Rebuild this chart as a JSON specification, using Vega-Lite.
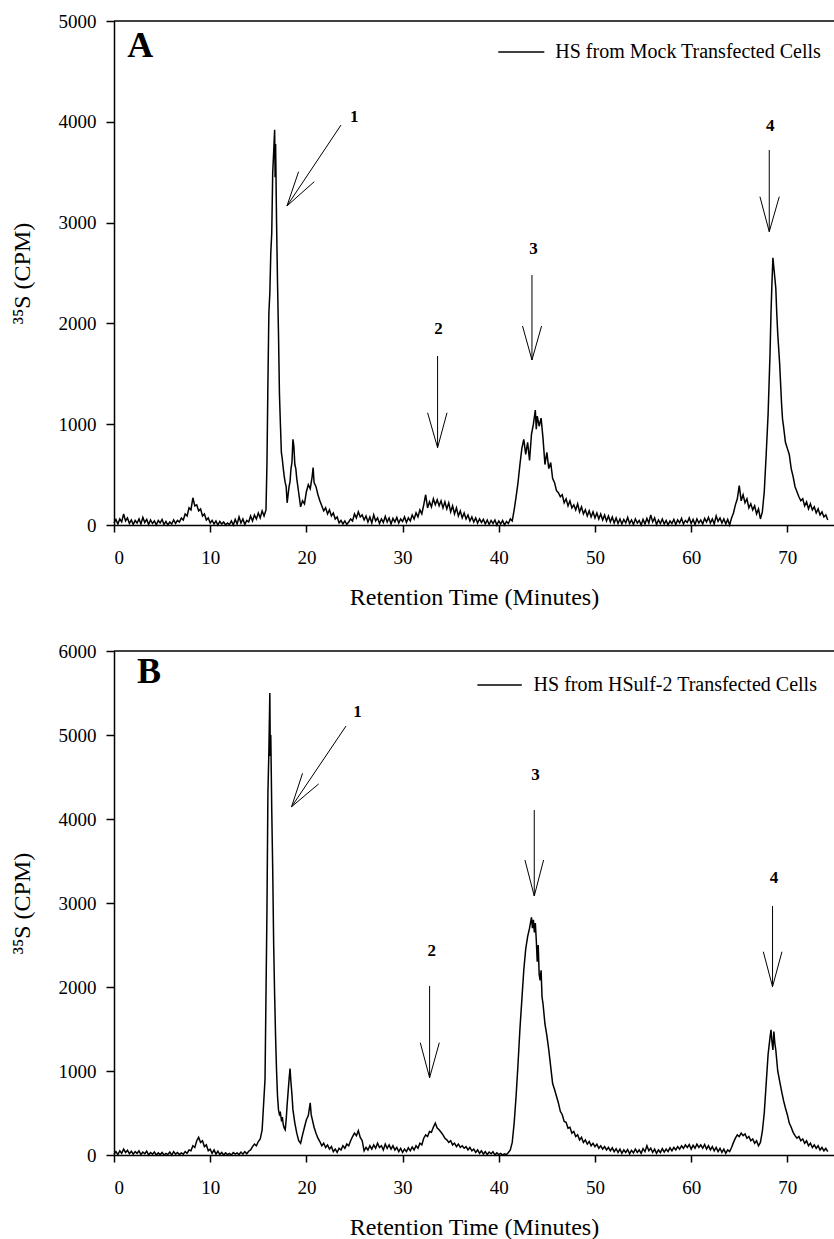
{
"$schema": "https://vega.github.io/schema/vega-lite/v6.json",
"padding": {"left": 10, "top": 12, "right": 0, "bottom": 5},
"config": {
  "font": "Liberation Serif",
  "view": {"stroke": null},
  "style": {"guide-label": {"font": "Liberation Serif", "fill": "black"}, "guide-title": {"font": "Liberation Serif", "fill": "black"}},
  "axis": {"grid": false, "domainColor": "black", "tickColor": "black", "domainWidth": 1.5, "tickWidth": 1.5, "labelColor": "black", "titleColor": "black", "labelFont": "Liberation Serif", "titleFont": "Liberation Serif", "labelFontSize": 19, "titleFontSize": 24, "titleFontWeight": "normal", "tickSize": 8},
  "legend": {"labelFont": "Liberation Serif", "labelFontSize": 20, "labelColor": "black", "labelLimit": 0, "padding": 0, "symbolType": "stroke", "symbolStrokeWidth": 1.5},
  "text": {"font": "Liberation Serif", "color": "black"}
},
"datasets": {
"mock": [
{"t":0,"v":20},{"t":0.2,"v":55},{"t":0.4,"v":10},{"t":0.6,"v":60},{"t":0.8,"v":30},{"t":1,"v":110},{"t":1.2,"v":40},{"t":1.4,"v":70},{"t":1.6,"v":15},{"t":1.8,"v":50},
{"t":2,"v":5},{"t":2.2,"v":45},{"t":2.4,"v":20},{"t":2.6,"v":60},{"t":2.8,"v":10},{"t":3,"v":75},{"t":3.2,"v":25},{"t":3.4,"v":55},{"t":3.6,"v":5},{"t":3.8,"v":50},
{"t":4,"v":15},{"t":4.2,"v":40},{"t":4.4,"v":0},{"t":4.6,"v":45},{"t":4.8,"v":20},{"t":5,"v":55},{"t":5.2,"v":5},{"t":5.4,"v":35},{"t":5.6,"v":0},{"t":5.8,"v":30},
{"t":6,"v":10},{"t":6.2,"v":50},{"t":6.4,"v":15},{"t":6.6,"v":45},{"t":6.8,"v":30},{"t":7,"v":70},{"t":7.2,"v":50},{"t":7.4,"v":110},{"t":7.6,"v":90},{"t":7.8,"v":170},
{"t":8,"v":150},{"t":8.2,"v":270},{"t":8.4,"v":190},{"t":8.6,"v":200},{"t":8.8,"v":140},{"t":9,"v":160},{"t":9.2,"v":90},{"t":9.4,"v":110},{"t":9.6,"v":50},{"t":9.8,"v":70},
{"t":10,"v":20},{"t":10.2,"v":45},{"t":10.4,"v":10},{"t":10.6,"v":40},{"t":10.8,"v":0},{"t":11,"v":35},{"t":11.2,"v":10},{"t":11.4,"v":30},{"t":11.6,"v":0},{"t":11.8,"v":20},
{"t":12,"v":5},{"t":12.2,"v":40},{"t":12.4,"v":0},{"t":12.6,"v":55},{"t":12.8,"v":10},{"t":13,"v":80},{"t":13.2,"v":20},{"t":13.4,"v":60},{"t":13.6,"v":5},{"t":13.8,"v":45},
{"t":14,"v":30},{"t":14.2,"v":90},{"t":14.4,"v":40},{"t":14.6,"v":100},{"t":14.8,"v":60},{"t":15,"v":120},{"t":15.2,"v":70},{"t":15.4,"v":140},{"t":15.6,"v":90},{"t":15.8,"v":150},
{"t":15.9,"v":600},{"t":16,"v":1400},{"t":16.1,"v":2100},{"t":16.2,"v":2300},{"t":16.3,"v":2700},{"t":16.4,"v":2900},{"t":16.5,"v":3500},{"t":16.6,"v":3700},{"t":16.7,"v":3920},{"t":16.75,"v":3450},
{"t":16.8,"v":3780},{"t":16.9,"v":3000},{"t":17,"v":2400},{"t":17.1,"v":1900},{"t":17.2,"v":1300},{"t":17.3,"v":1000},{"t":17.4,"v":720},{"t":17.5,"v":650},{"t":17.6,"v":560},{"t":17.7,"v":480},
{"t":17.8,"v":420},{"t":17.9,"v":380},{"t":18,"v":220},{"t":18.1,"v":300},{"t":18.2,"v":380},{"t":18.3,"v":430},{"t":18.4,"v":560},{"t":18.5,"v":620},{"t":18.6,"v":850},{"t":18.7,"v":780},
{"t":18.8,"v":600},{"t":18.9,"v":560},{"t":19,"v":460},{"t":19.2,"v":320},{"t":19.4,"v":180},{"t":19.6,"v":240},{"t":19.8,"v":210},{"t":20,"v":330},{"t":20.2,"v":400},{"t":20.4,"v":360},
{"t":20.6,"v":480},{"t":20.7,"v":570},{"t":20.8,"v":420},{"t":21,"v":380},{"t":21.2,"v":300},{"t":21.4,"v":240},{"t":21.6,"v":190},{"t":21.8,"v":140},{"t":22,"v":170},{"t":22.2,"v":110},
{"t":22.4,"v":150},{"t":22.6,"v":90},{"t":22.8,"v":120},{"t":23,"v":60},{"t":23.2,"v":80},{"t":23.4,"v":20},{"t":23.6,"v":45},{"t":23.8,"v":10},{"t":24,"v":40},{"t":24.2,"v":5},
{"t":24.4,"v":30},{"t":24.6,"v":60},{"t":24.8,"v":40},{"t":25,"v":110},{"t":25.2,"v":70},{"t":25.4,"v":130},{"t":25.6,"v":80},{"t":25.8,"v":100},{"t":26,"v":50},{"t":26.2,"v":90},
{"t":26.4,"v":30},{"t":26.6,"v":80},{"t":26.8,"v":20},{"t":27,"v":100},{"t":27.2,"v":40},{"t":27.4,"v":70},{"t":27.6,"v":15},{"t":27.8,"v":60},{"t":28,"v":25},{"t":28.2,"v":85},
{"t":28.4,"v":30},{"t":28.6,"v":70},{"t":28.8,"v":10},{"t":29,"v":65},{"t":29.2,"v":30},{"t":29.4,"v":75},{"t":29.6,"v":20},{"t":29.8,"v":60},{"t":30,"v":35},{"t":30.2,"v":80},
{"t":30.4,"v":25},{"t":30.6,"v":70},{"t":30.8,"v":40},{"t":31,"v":100},{"t":31.2,"v":60},{"t":31.4,"v":120},{"t":31.6,"v":80},{"t":31.8,"v":150},{"t":32,"v":110},{"t":32.2,"v":200},
{"t":32.4,"v":300},{"t":32.6,"v":170},{"t":32.8,"v":230},{"t":33,"v":180},{"t":33.2,"v":260},{"t":33.4,"v":200},{"t":33.6,"v":250},{"t":33.8,"v":190},{"t":34,"v":240},{"t":34.2,"v":170},
{"t":34.4,"v":230},{"t":34.6,"v":160},{"t":34.8,"v":220},{"t":35,"v":130},{"t":35.2,"v":190},{"t":35.4,"v":110},{"t":35.6,"v":170},{"t":35.8,"v":90},{"t":36,"v":140},{"t":36.2,"v":70},
{"t":36.4,"v":120},{"t":36.6,"v":60},{"t":36.8,"v":100},{"t":37,"v":40},{"t":37.2,"v":80},{"t":37.4,"v":30},{"t":37.6,"v":70},{"t":37.8,"v":20},{"t":38,"v":60},{"t":38.2,"v":25},
{"t":38.4,"v":55},{"t":38.6,"v":10},{"t":38.8,"v":50},{"t":39,"v":5},{"t":39.2,"v":45},{"t":39.4,"v":15},{"t":39.6,"v":50},{"t":39.8,"v":0},{"t":40,"v":40},{"t":40.2,"v":10},
{"t":40.4,"v":45},{"t":40.6,"v":0},{"t":40.8,"v":35},{"t":41,"v":15},{"t":41.2,"v":60},{"t":41.4,"v":40},{"t":41.6,"v":150},{"t":41.8,"v":280},{"t":42,"v":420},{"t":42.2,"v":600},
{"t":42.4,"v":760},{"t":42.6,"v":850},{"t":42.8,"v":700},{"t":43,"v":820},{"t":43.2,"v":640},{"t":43.4,"v":900},{"t":43.6,"v":1000},{"t":43.8,"v":1140},{"t":43.9,"v":950},{"t":44,"v":1080},
{"t":44.2,"v":980},{"t":44.4,"v":1060},{"t":44.6,"v":860},{"t":44.8,"v":600},{"t":45,"v":720},{"t":45.2,"v":560},{"t":45.4,"v":620},{"t":45.6,"v":460},{"t":45.8,"v":420},{"t":46,"v":340},
{"t":46.2,"v":320},{"t":46.4,"v":280},{"t":46.6,"v":300},{"t":46.8,"v":220},{"t":47,"v":260},{"t":47.2,"v":190},{"t":47.4,"v":240},{"t":47.6,"v":170},{"t":47.8,"v":200},{"t":48,"v":150},
{"t":48.2,"v":210},{"t":48.4,"v":130},{"t":48.6,"v":180},{"t":48.8,"v":110},{"t":49,"v":150},{"t":49.2,"v":90},{"t":49.4,"v":140},{"t":49.6,"v":80},{"t":49.8,"v":130},{"t":50,"v":70},
{"t":50.2,"v":120},{"t":50.4,"v":60},{"t":50.6,"v":110},{"t":50.8,"v":50},{"t":51,"v":100},{"t":51.2,"v":40},{"t":51.4,"v":90},{"t":51.6,"v":30},{"t":51.8,"v":80},{"t":52,"v":20},
{"t":52.2,"v":70},{"t":52.4,"v":15},{"t":52.6,"v":60},{"t":52.8,"v":10},{"t":53,"v":55},{"t":53.2,"v":20},{"t":53.4,"v":75},{"t":53.6,"v":15},{"t":53.8,"v":50},{"t":54,"v":5},
{"t":54.2,"v":60},{"t":54.4,"v":20},{"t":54.6,"v":45},{"t":54.8,"v":0},{"t":55,"v":55},{"t":55.2,"v":10},{"t":55.4,"v":65},{"t":55.6,"v":20},{"t":55.8,"v":100},{"t":56,"v":30},
{"t":56.2,"v":70},{"t":56.4,"v":5},{"t":56.6,"v":50},{"t":56.8,"v":15},{"t":57,"v":60},{"t":57.2,"v":10},{"t":57.4,"v":45},{"t":57.6,"v":0},{"t":57.8,"v":40},{"t":58,"v":15},
{"t":58.2,"v":55},{"t":58.4,"v":5},{"t":58.6,"v":50},{"t":58.8,"v":20},{"t":59,"v":65},{"t":59.2,"v":10},{"t":59.4,"v":45},{"t":59.6,"v":25},{"t":59.8,"v":70},{"t":60,"v":15},
{"t":60.2,"v":55},{"t":60.4,"v":5},{"t":60.6,"v":60},{"t":60.8,"v":20},{"t":61,"v":50},{"t":61.2,"v":10},{"t":61.4,"v":65},{"t":61.6,"v":30},{"t":61.8,"v":75},{"t":62,"v":20},
{"t":62.2,"v":60},{"t":62.4,"v":10},{"t":62.6,"v":90},{"t":62.8,"v":35},{"t":63,"v":70},{"t":63.2,"v":20},{"t":63.4,"v":60},{"t":63.6,"v":10},{"t":63.8,"v":55},{"t":64,"v":0},
{"t":64.2,"v":70},{"t":64.4,"v":120},{"t":64.6,"v":200},{"t":64.8,"v":260},{"t":65,"v":390},{"t":65.2,"v":240},{"t":65.4,"v":300},{"t":65.6,"v":220},{"t":65.8,"v":260},{"t":66,"v":170},
{"t":66.2,"v":210},{"t":66.4,"v":150},{"t":66.6,"v":190},{"t":66.8,"v":110},{"t":67,"v":160},{"t":67.2,"v":60},{"t":67.4,"v":130},{"t":67.6,"v":330},{"t":67.8,"v":700},{"t":68,"v":1100},
{"t":68.2,"v":1700},{"t":68.3,"v":2100},{"t":68.4,"v":2400},{"t":68.5,"v":2650},{"t":68.6,"v":2550},{"t":68.7,"v":2450},{"t":68.8,"v":2350},{"t":68.9,"v":2100},{"t":69,"v":1900},{"t":69.2,"v":1600},
{"t":69.4,"v":1200},{"t":69.5,"v":1050},{"t":69.6,"v":980},{"t":69.8,"v":820},{"t":70,"v":760},{"t":70.2,"v":700},{"t":70.4,"v":560},{"t":70.6,"v":480},{"t":70.8,"v":380},{"t":71,"v":330},
{"t":71.2,"v":280},{"t":71.4,"v":240},{"t":71.6,"v":260},{"t":71.8,"v":190},{"t":72,"v":230},{"t":72.2,"v":160},{"t":72.4,"v":210},{"t":72.6,"v":150},{"t":72.8,"v":180},{"t":73,"v":120},
{"t":73.2,"v":160},{"t":73.4,"v":100},{"t":73.6,"v":130},{"t":73.8,"v":80},{"t":74,"v":100},{"t":74.2,"v":50}
],
"hsulf": [
{"t":0,"v":10},{"t":0.2,"v":40},{"t":0.4,"v":5},{"t":0.6,"v":50},{"t":0.8,"v":20},{"t":1,"v":70},{"t":1.2,"v":30},{"t":1.4,"v":55},{"t":1.6,"v":15},{"t":1.8,"v":45},
{"t":2,"v":10},{"t":2.2,"v":40},{"t":2.4,"v":20},{"t":2.6,"v":50},{"t":2.8,"v":5},{"t":3,"v":35},{"t":3.2,"v":15},{"t":3.4,"v":45},{"t":3.6,"v":0},{"t":3.8,"v":30},
{"t":4,"v":10},{"t":4.2,"v":35},{"t":4.4,"v":0},{"t":4.6,"v":25},{"t":4.8,"v":5},{"t":5,"v":30},{"t":5.2,"v":0},{"t":5.4,"v":20},{"t":5.6,"v":5},{"t":5.8,"v":35},
{"t":6,"v":0},{"t":6.2,"v":40},{"t":6.4,"v":10},{"t":6.6,"v":30},{"t":6.8,"v":5},{"t":7,"v":25},{"t":7.2,"v":10},{"t":7.4,"v":40},{"t":7.6,"v":20},{"t":7.8,"v":60},
{"t":8,"v":50},{"t":8.2,"v":110},{"t":8.4,"v":90},{"t":8.6,"v":170},{"t":8.8,"v":210},{"t":9,"v":150},{"t":9.2,"v":170},{"t":9.4,"v":100},{"t":9.6,"v":120},{"t":9.8,"v":50},
{"t":10,"v":70},{"t":10.2,"v":20},{"t":10.4,"v":60},{"t":10.6,"v":10},{"t":10.8,"v":45},{"t":11,"v":5},{"t":11.2,"v":30},{"t":11.4,"v":0},{"t":11.6,"v":25},{"t":11.8,"v":5},
{"t":12,"v":20},{"t":12.2,"v":0},{"t":12.4,"v":30},{"t":12.6,"v":10},{"t":12.8,"v":25},{"t":13,"v":5},{"t":13.2,"v":35},{"t":13.4,"v":10},{"t":13.6,"v":40},{"t":13.8,"v":15},
{"t":14,"v":45},{"t":14.2,"v":60},{"t":14.4,"v":100},{"t":14.6,"v":130},{"t":14.8,"v":110},{"t":15,"v":160},{"t":15.2,"v":190},{"t":15.4,"v":300},{"t":15.5,"v":500},{"t":15.6,"v":700},
{"t":15.7,"v":900},{"t":15.8,"v":1900},{"t":15.9,"v":2900},{"t":16,"v":4300},{"t":16.1,"v":4800},{"t":16.2,"v":5500},{"t":16.25,"v":4750},{"t":16.3,"v":5000},{"t":16.4,"v":4100},{"t":16.5,"v":3400},
{"t":16.6,"v":2500},{"t":16.7,"v":1900},{"t":16.8,"v":1400},{"t":16.9,"v":1000},{"t":17,"v":700},{"t":17.1,"v":540},{"t":17.2,"v":480},{"t":17.3,"v":500},{"t":17.4,"v":420},{"t":17.5,"v":450},
{"t":17.6,"v":360},{"t":17.7,"v":320},{"t":17.8,"v":300},{"t":17.9,"v":420},{"t":18,"v":600},{"t":18.1,"v":750},{"t":18.2,"v":900},{"t":18.3,"v":1030},{"t":18.4,"v":860},{"t":18.5,"v":720},
{"t":18.6,"v":540},{"t":18.8,"v":380},{"t":19,"v":260},{"t":19.2,"v":170},{"t":19.4,"v":140},{"t":19.6,"v":240},{"t":19.8,"v":330},{"t":20,"v":420},{"t":20.2,"v":470},{"t":20.4,"v":620},
{"t":20.5,"v":480},{"t":20.6,"v":430},{"t":20.8,"v":330},{"t":21,"v":260},{"t":21.2,"v":200},{"t":21.4,"v":160},{"t":21.6,"v":110},{"t":21.8,"v":140},{"t":22,"v":90},{"t":22.2,"v":120},
{"t":22.4,"v":70},{"t":22.6,"v":100},{"t":22.8,"v":40},{"t":23,"v":70},{"t":23.2,"v":30},{"t":23.4,"v":80},{"t":23.6,"v":60},{"t":23.8,"v":110},{"t":24,"v":80},{"t":24.2,"v":130},
{"t":24.4,"v":110},{"t":24.6,"v":170},{"t":24.8,"v":220},{"t":25,"v":260},{"t":25.2,"v":230},{"t":25.4,"v":290},{"t":25.6,"v":210},{"t":25.8,"v":170},{"t":26,"v":50},{"t":26.2,"v":90},
{"t":26.4,"v":60},{"t":26.6,"v":110},{"t":26.8,"v":70},{"t":27,"v":120},{"t":27.2,"v":80},{"t":27.4,"v":140},{"t":27.6,"v":90},{"t":27.8,"v":110},{"t":28,"v":60},{"t":28.2,"v":130},
{"t":28.4,"v":80},{"t":28.6,"v":120},{"t":28.8,"v":70},{"t":29,"v":110},{"t":29.2,"v":60},{"t":29.4,"v":90},{"t":29.6,"v":40},{"t":29.8,"v":80},{"t":30,"v":30},{"t":30.2,"v":70},
{"t":30.4,"v":40},{"t":30.6,"v":85},{"t":30.8,"v":50},{"t":31,"v":95},{"t":31.2,"v":60},{"t":31.4,"v":110},{"t":31.6,"v":80},{"t":31.8,"v":140},{"t":32,"v":120},{"t":32.2,"v":200},
{"t":32.4,"v":240},{"t":32.6,"v":220},{"t":32.8,"v":280},{"t":33,"v":270},{"t":33.2,"v":330},{"t":33.4,"v":380},{"t":33.6,"v":320},{"t":33.8,"v":300},{"t":34,"v":270},{"t":34.2,"v":240},
{"t":34.4,"v":200},{"t":34.6,"v":180},{"t":34.8,"v":150},{"t":35,"v":170},{"t":35.2,"v":120},{"t":35.4,"v":140},{"t":35.6,"v":100},{"t":35.8,"v":130},{"t":36,"v":90},{"t":36.2,"v":110},
{"t":36.4,"v":80},{"t":36.6,"v":100},{"t":36.8,"v":60},{"t":37,"v":90},{"t":37.2,"v":50},{"t":37.4,"v":70},{"t":37.6,"v":30},{"t":37.8,"v":60},{"t":38,"v":20},{"t":38.2,"v":50},
{"t":38.4,"v":10},{"t":38.6,"v":40},{"t":38.8,"v":5},{"t":39,"v":35},{"t":39.2,"v":15},{"t":39.4,"v":40},{"t":39.6,"v":0},{"t":39.8,"v":25},{"t":40,"v":5},{"t":40.2,"v":20},
{"t":40.4,"v":0},{"t":40.6,"v":15},{"t":40.8,"v":5},{"t":41,"v":30},{"t":41.2,"v":60},{"t":41.4,"v":150},{"t":41.6,"v":380},{"t":41.8,"v":700},{"t":42,"v":1080},{"t":42.2,"v":1500},
{"t":42.4,"v":1850},{"t":42.6,"v":2200},{"t":42.8,"v":2450},{"t":43,"v":2600},{"t":43.2,"v":2700},{"t":43.4,"v":2830},{"t":43.5,"v":2700},{"t":43.6,"v":2800},{"t":43.7,"v":2650},{"t":43.8,"v":2760},
{"t":43.9,"v":2560},{"t":44,"v":2300},{"t":44.1,"v":2500},{"t":44.2,"v":2150},{"t":44.3,"v":2080},{"t":44.4,"v":2200},{"t":44.5,"v":1880},{"t":44.6,"v":1800},{"t":44.8,"v":1560},{"t":45,"v":1420},
{"t":45.2,"v":1250},{"t":45.4,"v":1050},{"t":45.6,"v":850},{"t":45.8,"v":780},{"t":46,"v":700},{"t":46.2,"v":620},{"t":46.4,"v":520},{"t":46.6,"v":480},{"t":46.8,"v":400},{"t":47,"v":390},
{"t":47.2,"v":320},{"t":47.4,"v":330},{"t":47.6,"v":260},{"t":47.8,"v":280},{"t":48,"v":220},{"t":48.2,"v":240},{"t":48.4,"v":180},{"t":48.6,"v":210},{"t":48.8,"v":150},{"t":49,"v":180},
{"t":49.2,"v":130},{"t":49.4,"v":160},{"t":49.6,"v":110},{"t":49.8,"v":140},{"t":50,"v":100},{"t":50.2,"v":130},{"t":50.4,"v":80},{"t":50.6,"v":110},{"t":50.8,"v":70},{"t":51,"v":100},
{"t":51.2,"v":60},{"t":51.4,"v":90},{"t":51.6,"v":50},{"t":51.8,"v":85},{"t":52,"v":40},{"t":52.2,"v":75},{"t":52.4,"v":30},{"t":52.6,"v":70},{"t":52.8,"v":20},{"t":53,"v":60},
{"t":53.2,"v":30},{"t":53.4,"v":65},{"t":53.6,"v":15},{"t":53.8,"v":55},{"t":54,"v":25},{"t":54.2,"v":70},{"t":54.4,"v":30},{"t":54.6,"v":60},{"t":54.8,"v":20},{"t":55,"v":75},
{"t":55.2,"v":40},{"t":55.4,"v":110},{"t":55.6,"v":50},{"t":55.8,"v":80},{"t":56,"v":30},{"t":56.2,"v":70},{"t":56.4,"v":20},{"t":56.6,"v":60},{"t":56.8,"v":30},{"t":57,"v":75},
{"t":57.2,"v":35},{"t":57.4,"v":70},{"t":57.6,"v":40},{"t":57.8,"v":85},{"t":58,"v":50},{"t":58.2,"v":90},{"t":58.4,"v":60},{"t":58.6,"v":100},{"t":58.8,"v":70},{"t":59,"v":110},
{"t":59.2,"v":80},{"t":59.4,"v":120},{"t":59.6,"v":90},{"t":59.8,"v":125},{"t":60,"v":70},{"t":60.2,"v":115},{"t":60.4,"v":80},{"t":60.6,"v":130},{"t":60.8,"v":90},{"t":61,"v":120},
{"t":61.2,"v":80},{"t":61.4,"v":125},{"t":61.6,"v":70},{"t":61.8,"v":110},{"t":62,"v":60},{"t":62.2,"v":100},{"t":62.4,"v":50},{"t":62.6,"v":90},{"t":62.8,"v":40},{"t":63,"v":80},
{"t":63.2,"v":30},{"t":63.4,"v":70},{"t":63.6,"v":20},{"t":63.8,"v":60},{"t":64,"v":40},{"t":64.2,"v":90},{"t":64.4,"v":150},{"t":64.6,"v":200},{"t":64.8,"v":240},{"t":65,"v":220},
{"t":65.2,"v":260},{"t":65.4,"v":230},{"t":65.6,"v":250},{"t":65.8,"v":200},{"t":66,"v":220},{"t":66.2,"v":170},{"t":66.4,"v":190},{"t":66.6,"v":140},{"t":66.8,"v":170},{"t":67,"v":110},
{"t":67.2,"v":150},{"t":67.4,"v":280},{"t":67.6,"v":500},{"t":67.8,"v":850},{"t":68,"v":1200},{"t":68.2,"v":1400},{"t":68.3,"v":1490},{"t":68.4,"v":1350},{"t":68.5,"v":1250},{"t":68.6,"v":1470},
{"t":68.7,"v":1330},{"t":68.8,"v":1250},{"t":69,"v":1000},{"t":69.2,"v":880},{"t":69.4,"v":760},{"t":69.6,"v":650},{"t":69.8,"v":560},{"t":70,"v":480},{"t":70.2,"v":380},{"t":70.4,"v":330},
{"t":70.6,"v":270},{"t":70.8,"v":230},{"t":71,"v":200},{"t":71.2,"v":220},{"t":71.4,"v":170},{"t":71.6,"v":190},{"t":71.8,"v":140},{"t":72,"v":170},{"t":72.2,"v":110},{"t":72.4,"v":140},
{"t":72.6,"v":90},{"t":72.8,"v":120},{"t":73,"v":80},{"t":73.2,"v":110},{"t":73.4,"v":60},{"t":73.6,"v":90},{"t":73.8,"v":50},{"t":74,"v":80},{"t":74.2,"v":40}
],
"arrowsA": [
{"x":23.6,"y":3968,"x2":17.98,"y2":3165},{"x":17.98,"y":3165,"x2":19.19,"y2":3505},{"x":17.98,"y":3165,"x2":20.82,"y2":3406},
{"x":33.64,"y":1677,"x2":33.64,"y2":767},{"x":33.64,"y":767,"x2":32.6,"y2":1114},{"x":33.64,"y":767,"x2":34.62,"y2":1114},
{"x":43.45,"y":2480,"x2":43.45,"y2":1637},{"x":43.45,"y":1637,"x2":42.47,"y2":1974},{"x":43.45,"y":1637,"x2":44.45,"y2":1974},
{"x":68.12,"y":3720,"x2":68.12,"y2":2910},{"x":68.12,"y":2910,"x2":67.15,"y2":3257},{"x":68.12,"y":2910,"x2":69.16,"y2":3257}
],
"arrowsB": [
{"x":24.12,"y":5107,"x2":18.46,"y2":4146},{"x":18.46,"y":4146,"x2":19.6,"y2":4544},{"x":18.46,"y":4146,"x2":21.27,"y2":4417},
{"x":32.81,"y":2012,"x2":32.81,"y2":920},{"x":32.81,"y":920,"x2":31.84,"y2":1337},{"x":32.81,"y":920,"x2":33.82,"y2":1337},
{"x":43.69,"y":4107,"x2":43.69,"y2":3083},{"x":43.69,"y":3083,"x2":42.72,"y2":3512},{"x":43.69,"y":3083,"x2":44.66,"y2":3512},
{"x":68.46,"y":2964,"x2":68.46,"y2":2004},{"x":68.46,"y":2004,"x2":67.5,"y2":2420},{"x":68.46,"y":2004,"x2":69.44,"y2":2420}
],
"peaksA": [{"x":24.98,"y":4051,"label":"1"},{"x":33.74,"y":1941,"label":"2"},{"x":43.6,"y":2735,"label":"3"},{"x":68.22,"y":3958,"label":"4"}],
"peaksB": [{"x":25.32,"y":5277,"label":"1"},{"x":33.02,"y":2432,"label":"2"},{"x":43.82,"y":4524,"label":"3"},{"x":68.62,"y":3294,"label":"4"}],
"panelA": [{"x":1.38,"y":4643,"label":"A","top":5000}],
"panelB": [{"x":2.39,"y":5615,"label":"B","top":6000}]
},
"vconcat": [
{
  "width": 720, "height": 504,
  "layer": [
    {"data": {"name": "mock"}, "mark": {"type": "line", "strokeWidth": 1.5},
     "encoding": {
       "x": {"field": "t", "type": "quantitative", "scale": {"domain": [0, 74.85], "nice": false, "zero": false}, "axis": {"values": [0,10,20,30,40,50,60,70], "title": "Retention Time (Minutes)", "tickSize": 7, "labelPadding": 16, "titlePadding": 18, "labelFont": "Liberation Serif", "titleFont": "Liberation Serif"}},
       "y": {"field": "v", "type": "quantitative", "scale": {"domain": [0, 5000], "nice": false}, "axis": {"values": [0,1000,2000,3000,4000,5000], "format": "d", "title": "³⁵S (CPM)", "labelPadding": 10, "titlePadding": 24, "labelFont": "Liberation Serif", "titleFont": "Liberation Serif"}},
       "color": {"datum": "HS from Mock Transfected Cells", "scale": {"range": ["black"]}, "legend": {"orient": "none", "legendX": 383.3, "legendY": 7, "title": null, "symbolSize": 2116, "labelOffset": 10, "labelFont": "Liberation Serif", "labelLimit": 0}}
     }},
    {"data": {"name": "panelA"}, "mark": {"type": "rule", "color": "black", "strokeWidth": 1.5}, "encoding": {"y": {"field": "top", "type": "quantitative"}}},
    {"data": {"name": "arrowsA"}, "mark": {"type": "rule", "color": "black", "strokeWidth": 1},
     "encoding": {"x": {"field": "x", "type": "quantitative"}, "y": {"field": "y", "type": "quantitative"}, "x2": {"field": "x2"}, "y2": {"field": "y2"}}},
    {"data": {"name": "peaksA"}, "mark": {"type": "text", "font": "Liberation Serif", "fontSize": 17, "fontWeight": "bold", "align": "center", "baseline": "middle"},
     "encoding": {"x": {"field": "x", "type": "quantitative"}, "y": {"field": "y", "type": "quantitative"}, "text": {"field": "label"}}},
    {"data": {"name": "panelA"}, "mark": {"type": "text", "font": "Liberation Serif", "fontSize": 36, "fontWeight": "bold", "align": "left", "baseline": "alphabetic"},
     "encoding": {"x": {"field": "x", "type": "quantitative"}, "y": {"field": "y", "type": "quantitative"}, "text": {"field": "label"}}}
  ]
},
{
  "width": 720, "height": 504,
  "layer": [
    {"data": {"name": "hsulf"}, "mark": {"type": "line", "strokeWidth": 1.5},
     "encoding": {
       "x": {"field": "t", "type": "quantitative", "scale": {"domain": [0, 74.85], "nice": false, "zero": false}, "axis": {"values": [0,10,20,30,40,50,60,70], "title": "Retention Time (Minutes)", "tickSize": 7, "labelPadding": 16, "titlePadding": 18, "labelFont": "Liberation Serif", "titleFont": "Liberation Serif"}},
       "y": {"field": "v", "type": "quantitative", "scale": {"domain": [0, 6000], "nice": false}, "axis": {"values": [0,1000,2000,3000,4000,5000,6000], "format": "d", "title": "³⁵S (CPM)", "labelPadding": 10, "titlePadding": 24, "labelFont": "Liberation Serif", "titleFont": "Liberation Serif"}},
       "color": {"datum": "HS from HSulf-2 Transfected Cells", "scale": {"range": ["black"]}, "legend": {"orient": "none", "legendX": 362.6, "legendY": 11, "title": null, "symbolSize": 1971, "labelOffset": 11, "labelFont": "Liberation Serif", "labelLimit": 0}}
     }},
    {"data": {"name": "panelB"}, "mark": {"type": "rule", "color": "black", "strokeWidth": 1.5}, "encoding": {"y": {"field": "top", "type": "quantitative"}}},
    {"data": {"name": "arrowsB"}, "mark": {"type": "rule", "color": "black", "strokeWidth": 1},
     "encoding": {"x": {"field": "x", "type": "quantitative"}, "y": {"field": "y", "type": "quantitative"}, "x2": {"field": "x2"}, "y2": {"field": "y2"}}},
    {"data": {"name": "peaksB"}, "mark": {"type": "text", "font": "Liberation Serif", "fontSize": 17, "fontWeight": "bold", "align": "center", "baseline": "middle"},
     "encoding": {"x": {"field": "x", "type": "quantitative"}, "y": {"field": "y", "type": "quantitative"}, "text": {"field": "label"}}},
    {"data": {"name": "panelB"}, "mark": {"type": "text", "font": "Liberation Serif", "fontSize": 36, "fontWeight": "bold", "align": "left", "baseline": "alphabetic"},
     "encoding": {"x": {"field": "x", "type": "quantitative"}, "y": {"field": "y", "type": "quantitative"}, "text": {"field": "label"}}}
  ]
}
],
"spacing": 33,
"resolve": {"scale": {"color": "independent", "y": "independent"}, "legend": {"color": "independent"}}
}
